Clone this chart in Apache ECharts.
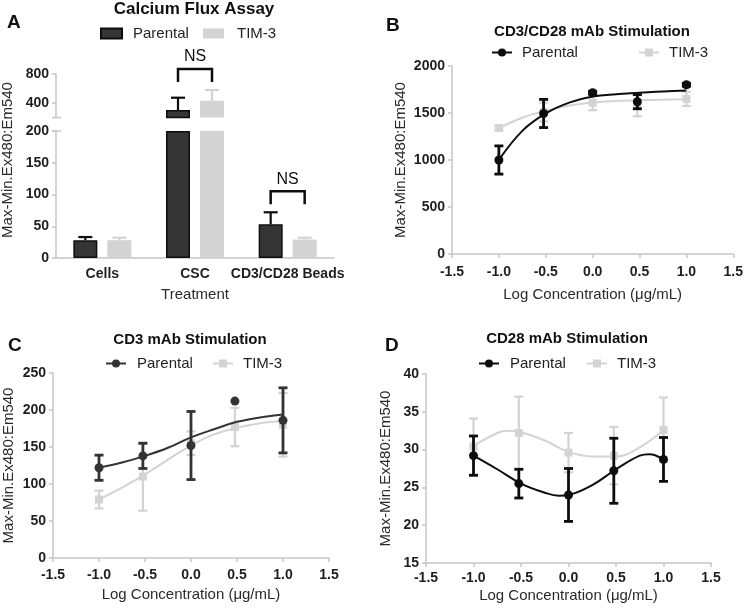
<!DOCTYPE html>
<html><head><meta charset="utf-8">
<script src="https://cdn.jsdelivr.net/npm/echarts@6/dist/echarts.min.js"></script>
<style>html,body{margin:0;padding:0;background:#fff}#c{width:746px;height:612px}</style>
</head><body><div id="c"></div>
<script>
// ---------------- Panel A data ----------------
const aCategories = ['Cells', 'CSC', 'CD3/CD28 Beads'];
const aParental = [28, 303, 53];
const aParentalErr = [5, 170, 19];
const aTim3 = [28, 432, 29];
const aTim3Err = [4, 147, 3];
const aLowerMax = 200;          // axis break value
const aUpperMax = 800;
const aLowerTicks = 50;
const aUpperTicks = [400, 800];
const aNsCategories = [1, 2];
const aNsLabels = ['NS', 'NS'];

// ---------------- Panel B data ----------------
const bX = [-1, -0.523, 0, 0.477, 1];
const bParental = [1000, 1495, 1715, 1620, 1800];
const bParentalErr = [150, 150, 15, 75, 15];
const bTim3 = [1340, 1510, 1610, 1580, 1650];
const bTim3Err = [30, 100, 80, 115, 75];
const bFitX = [-1, -0.75, -0.5, -0.25, 0, 0.25, 0.5, 0.75, 1];
const bParentalFit = [1000, 1310, 1495, 1610, 1675, 1700, 1715, 1730, 1740];
const bTim3Fit = [1340, 1450, 1525, 1580, 1612, 1628, 1637, 1642, 1645];

// ---------------- Panel C data ----------------
const cX = [-1, -0.523, 0, 0.477, 1];
const cParental = [122, 138, 152, 212, 186];
const cParentalErr = [17, 17, 46, 0, 44];
const cTim3 = [79, 110, 155, 177, 180];
const cTim3Err = [12, 46, 16, 26, 43];
const cFitX = [-1, -0.75, -0.5, -0.25, 0, 0.25, 0.5, 0.75, 1];
const cParentalFit = [122, 129, 138, 149, 163, 174, 184, 190, 194];
const cTim3Fit = [79, 95, 113, 133, 152, 167, 176, 182, 185];

// ---------------- Panel D data ----------------
const dX = [-1, -0.523, 0, 0.477, 1];
const dParental = [29.2, 25.5, 24.0, 27.2, 28.7];
const dParentalErr = [2.6, 1.9, 3.5, 4.3, 2.9];
const dTim3 = [30.4, 32.2, 29.6, 29.2, 32.6];
const dTim3Err = [3.7, 4.8, 2.6, 3.8, 4.3];
const dParentalFitX = [-1, -0.75, -0.5, -0.25, -0.1, 0, 0.25, 0.5, 0.75, 0.85, 1];
const dParentalFit = [29.2, 27.4, 25.5, 24.3, 23.9, 24.0, 25.3, 27.4, 29.2, 29.4, 28.7];
const dTim3FitX = [-1, -0.75, -0.65, -0.5, -0.25, 0, 0.25, 0.5, 0.75, 1];
const dTim3Fit = [30.5, 32.2, 32.5, 32.3, 31.2, 29.7, 29.1, 29.1, 30.3, 32.6];

const xTickLabelsMin = -1.5, xTickLabelsMax = 1.5, xTickStep = 0.5;

// ---------------- styles ----------------
const FONT = '"Liberation Sans", Arial, Helvetica, sans-serif';
const AXIS_COLOR = '#c6c6c6';
const LABEL_COLOR = '#1e1e1e';
const NAME_COLOR = '#2a2a2a';
const BLACK = '#0d0d0d';
const DARKGREY = '#333333';
const LIGHT = '#d3d3d3';
const BAR_W = 24, BAR_GAP = 10;
const BAR_OFF = (BAR_W + BAR_GAP) / 2;

const G_AUP = {left: 56, top: 74, width: 278, height: 43.5};
const G_ALO = {left: 56, top: 131, width: 278, height: 127};
const G_B = {left: 452, top: 66, width: 283, height: 188};
const G_C = {left: 52, top: 373, width: 277, height: 185};
const G_D = {left: 426, top: 374, width: 285, height: 189};

const zip = (xs, ys) => xs.map((x, i) => [x, ys[i]]);
const zip3 = (xs, ys, es) => xs.map((x, i) => [x, ys[i], es[i]]);

function axisLine() { return {show: true, onZero: false, lineStyle: {color: AXIS_COLOR, width: 1.5}}; }
function axisTick() { return {show: true, length: 4, inside: false, lineStyle: {color: AXIS_COLOR, width: 1.5}}; }
function tickLabel(extra) {
  return Object.assign({fontFamily: FONT, fontSize: 14, fontWeight: 'bold', color: LABEL_COLOR}, extra || {});
}
function logXAxis(gridIndex, nameGap, labelMargin) {
  return {
    type: 'value', gridIndex, min: xTickLabelsMin, max: xTickLabelsMax, interval: xTickStep,
    axisLine: axisLine(), axisTick: axisTick(), splitLine: {show: false},
    axisLabel: tickLabel({margin: labelMargin, formatter: v => v.toFixed(1)}),
    name: 'Log Concentration (\u03bcg/mL)', nameLocation: 'middle', nameGap,
    nameTextStyle: {fontFamily: FONT, fontSize: 15, color: NAME_COLOR}
  };
}
function valYAxis(gridIndex, min, max, interval, nameGap) {
  return {
    type: 'value', gridIndex, min, max, interval,
    axisLine: axisLine(), axisTick: axisTick(), splitLine: {show: false},
    axisLabel: tickLabel({margin: 7, formatter: v => String(v)}),
    name: 'Max-Min.Ex480:Em540', nameLocation: 'middle', nameGap,
    nameTextStyle: {fontFamily: FONT, fontSize: 15, color: NAME_COLOR}
  };
}

// two-sided error bars for the XY panels
function errRender(color, lw, capW) {
  return function (params, api) {
    const x = api.value(0), y = api.value(1), e = api.value(2);
    if (!(e > 0)) return;
    const t = api.coord([x, y + e]), b = api.coord([x, y - e]);
    const style = {stroke: color, lineWidth: lw, fill: null};
    return {type: 'group', children: [
      {type: 'line', shape: {x1: t[0], y1: t[1], x2: b[0], y2: b[1]}, style},
      {type: 'line', shape: {x1: t[0] - capW / 2, y1: t[1], x2: t[0] + capW / 2, y2: t[1]}, style},
      {type: 'line', shape: {x1: b[0] - capW / 2, y1: b[1], x2: b[0] + capW / 2, y2: b[1]}, style}
    ]};
  };
}

// one-sided (upper) error bars for the bar panel; value(3) = side (-1 / +1)
function barErrRender(params, api) {
  const cat = api.value(0), v = api.value(1), e = api.value(2), side = api.value(3);
  const b = api.coord([cat, v]), t = api.coord([cat, v + e]);
  const x = b[0] + side * BAR_OFF;
  const color = side < 0 ? BLACK : LIGHT;
  const style = {stroke: color, lineWidth: 2.2, fill: null};
  return {type: 'group', children: [
    {type: 'line', shape: {x1: x, y1: b[1], x2: x, y2: t[1]}, style},
    {type: 'line', shape: {x1: x - 7, y1: t[1], x2: x + 7, y2: t[1]}, style}
  ]};
}

function bracketRender(params, api) {
  const c = api.coord([api.value(0), api.value(1)]);
  const xl = c[0] - BAR_OFF, xr = c[0] + BAR_OFF;
  const yb = c[1] - 21, yl = c[1] - 8;
  return {type: 'group', children: [
    {type: 'polyline', shape: {points: [[xl, yl], [xl, yb], [xr, yb], [xr, yl]]},
     style: {stroke: BLACK, lineWidth: 2.5, fill: null}},
    {type: 'text', x: c[0], y: yb - 4,
     style: {text: aNsLabels[params.dataIndexInside] || 'NS', fontFamily: FONT, fontSize: 16, fill: '#111', align: 'center', verticalAlign: 'bottom'}}
  ]};
}

// derived Panel A data
const aErrRows = [];
aCategories.forEach((c, i) => {
  aErrRows.push([i, aParental[i], aParentalErr[i], -1]);
  aErrRows.push([i, aTim3[i], aTim3Err[i], 1]);
});
const aNsRows = aNsCategories.map(i => [i, Math.max(aParental[i] + aParentalErr[i], aTim3[i] + aTim3Err[i])]);

const aBarStyleP = {color: '#353535', borderColor: BLACK, borderWidth: 1.5};
const aBarStyleT = {color: LIGHT};

function legendOne(name, left, top, icon, pad) {
  const item = icon ? {name, icon} : {name};
  return {
    data: [item], left, top, padding: 0, itemWidth: icon ? 21 : 20, itemHeight: 10,
    selectedMode: false, formatter: n => n.split('#')[0],
    textStyle: {fontFamily: FONT, fontSize: 15, color: '#222', padding: [0, 0, 0, pad]},
    lineStyle: {width: 2, opacity: 1}
  };
}

function titleText(text, left, top, size, align) {
  return {text, left, top, padding: 0, textAlign: align || 'left',
    textStyle: {fontFamily: FONT, fontSize: size, fontWeight: 'bold', color: '#111'}};
}

function xyPanel(key, gi, xs, pv, pe, tv, te, pfx, pf, tfx, tf, pColor) {
  return [
    {name: 'TIM-3 fit#' + key, type: 'line', xAxisIndex: gi, yAxisIndex: gi, data: zip(tfx, tf),
     smooth: 0.4, showSymbol: false, silent: true, lineStyle: {color: LIGHT, width: 2}, z: 2},
    {name: 'TIM-3 err#' + key, type: 'custom', xAxisIndex: gi, yAxisIndex: gi, data: zip3(xs, tv, te),
     renderItem: errRender(LIGHT, 2.2, 9), encode: {x: 0, y: 1}, silent: true, z: 3},
    {name: 'TIM-3#' + key, type: 'line', xAxisIndex: gi, yAxisIndex: gi, data: zip(xs, tv),
     symbol: 'rect', symbolSize: 8, itemStyle: {color: LIGHT}, lineStyle: {color: LIGHT, width: 2, opacity: 0}, z: 4},
    {name: 'Parental fit#' + key, type: 'line', xAxisIndex: gi, yAxisIndex: gi, data: zip(pfx, pf),
     smooth: 0.4, showSymbol: false, silent: true, lineStyle: {color: pColor, width: 2}, z: 5},
    {name: 'Parental err#' + key, type: 'custom', xAxisIndex: gi, yAxisIndex: gi, data: zip3(xs, pv, pe),
     renderItem: errRender(pColor, 2.8, 9), encode: {x: 0, y: 1}, silent: true, z: 6},
    {name: 'Parental#' + key, type: 'line', xAxisIndex: gi, yAxisIndex: gi, data: zip(xs, pv),
     symbol: 'circle', symbolSize: 9, itemStyle: {color: pColor}, lineStyle: {color: pColor, width: 2, opacity: 0}, z: 7}
  ];
}

const option = {
  animation: false,
  backgroundColor: '#ffffff',
  title: [
    titleText('A', 7, 13, 19),
    titleText('Calcium Flux Assay', 194, 1, 17, 'center'),
    titleText('B', 386, 16, 19),
    titleText('CD3/CD28 mAb Stimulation', 592, 24, 15, 'center'),
    titleText('C', 8, 336, 19),
    titleText('CD3 mAb Stimulation', 190, 332, 15, 'center'),
    titleText('D', 385, 336, 19),
    titleText('CD28 mAb Stimulation', 567, 331, 15, 'center')
  ],
  legend: [
    legendOne('Parental#A', 100, 26, 'rect', 6),
    legendOne('TIM-3#A', 203, 26, 'rect', 8),
    legendOne('Parental#B', 491, 45, null, 5),
    legendOne('TIM-3#B', 638, 45, null, 5),
    legendOne('Parental#C', 105, 356, null, 6),
    legendOne('TIM-3#C', 212, 356, null, 5),
    legendOne('Parental#D', 478, 356, null, 6),
    legendOne('TIM-3#D', 586, 356, null, 5)
  ],
  grid: [G_AUP, G_ALO, G_B, G_C, G_D].map(g => Object.assign({containLabel: false}, g)),
  xAxis: [
    {type: 'category', gridIndex: 0, data: aCategories, show: false},
    {type: 'category', gridIndex: 1, data: aCategories,
     axisLine: axisLine(), axisTick: {show: false},
     axisLabel: tickLabel({margin: 9, interval: 0, hideOverlap: false}),
     name: 'Treatment', nameLocation: 'middle', nameGap: 29,
     nameTextStyle: {fontFamily: FONT, fontSize: 15, color: NAME_COLOR}},
    logXAxis(2, 33, 11),
    logXAxis(3, 29, 10),
    logXAxis(4, 25, 8)
  ],
  yAxis: [
    {type: 'value', gridIndex: 0, min: aLowerMax, max: aUpperMax,
     axisLine: axisLine(), splitLine: {show: false},
     axisTick: Object.assign(axisTick(), {customValues: aUpperTicks}),
     axisLabel: tickLabel({margin: 7, customValues: aUpperTicks})},
    {type: 'value', gridIndex: 1, min: 0, max: aLowerMax, interval: aLowerTicks,
     axisLine: axisLine(), axisTick: axisTick(), splitLine: {show: false},
     axisLabel: tickLabel({margin: 7})},
    valYAxis(2, 0, 2000, 500, 44),
    valYAxis(3, 0, 250, 50, 37),
    valYAxis(4, 15, 40, 5, 33)
  ],
  series: [
    {name: 'Parental#A', type: 'bar', xAxisIndex: 1, yAxisIndex: 1, barWidth: BAR_W, barGap: (BAR_GAP / BAR_W * 100) + '%',
     data: aParental.map(v => Math.min(v, aLowerMax)), itemStyle: aBarStyleP, clip: true},
    {name: 'TIM-3#A', type: 'bar', xAxisIndex: 1, yAxisIndex: 1, barWidth: BAR_W,
     data: aTim3.map(v => Math.min(v, aLowerMax)), itemStyle: aBarStyleT, clip: true},
    {name: 'Parental#A', type: 'bar', xAxisIndex: 0, yAxisIndex: 0, barWidth: BAR_W, barGap: (BAR_GAP / BAR_W * 100) + '%',
     data: aParental.map(v => v > aLowerMax ? v : '-'), itemStyle: aBarStyleP, clip: true},
    {name: 'TIM-3#A', type: 'bar', xAxisIndex: 0, yAxisIndex: 0, barWidth: BAR_W,
     data: aTim3.map(v => v > aLowerMax ? v : '-'), itemStyle: aBarStyleT, clip: true},
    {name: 'errA low', type: 'custom', xAxisIndex: 1, yAxisIndex: 1, renderItem: barErrRender,
     data: aErrRows.filter(r => r[1] <= aLowerMax), encode: {x: 0, y: 1}, silent: true, z: 3},
    {name: 'errA up', type: 'custom', xAxisIndex: 0, yAxisIndex: 0, renderItem: barErrRender,
     data: aErrRows.filter(r => r[1] > aLowerMax), encode: {x: 0, y: 1}, silent: true, z: 3},
    {name: 'nsA low', type: 'custom', xAxisIndex: 1, yAxisIndex: 1, renderItem: bracketRender,
     data: aNsRows.filter(r => r[1] <= aLowerMax), encode: {x: 0, y: 1}, silent: true, clip: false},
    {name: 'nsA up', type: 'custom', xAxisIndex: 0, yAxisIndex: 0, renderItem: bracketRender,
     data: aNsRows.filter(r => r[1] > aLowerMax), encode: {x: 0, y: 1}, silent: true, clip: false}
  ]
    .concat(xyPanel('B', 2, bX, bParental, bParentalErr, bTim3, bTim3Err, bFitX, bParentalFit, bFitX, bTim3Fit, BLACK))
    .concat(xyPanel('C', 3, cX, cParental, cParentalErr, cTim3, cTim3Err, cFitX, cParentalFit, cFitX, cTim3Fit, DARKGREY))
    .concat(xyPanel('D', 4, dX, dParental, dParentalErr, dTim3, dTim3Err, dParentalFitX, dParentalFit, dTim3FitX, dTim3Fit, BLACK)),
  graphic: [
    {type: 'line', shape: {x1: G_AUP.left - 4, y1: G_AUP.top + G_AUP.height, x2: G_AUP.left + 5, y2: G_AUP.top + G_AUP.height},
     style: {stroke: AXIS_COLOR, lineWidth: 1.5}},
    {type: 'line', shape: {x1: G_ALO.left - 4, y1: G_ALO.top, x2: G_ALO.left + 5, y2: G_ALO.top},
     style: {stroke: AXIS_COLOR, lineWidth: 1.5}},
    {type: 'text', x: 8, y: 160, rotation: Math.PI / 2,
     style: {text: 'Max-Min.Ex480:Em540', fontFamily: FONT, fontSize: 15, fill: NAME_COLOR, align: 'center', verticalAlign: 'middle'}}
  ]
};

const chart = echarts.init(document.getElementById('c'), null, {renderer: 'canvas'});
chart.setOption(option);
</script>
</body></html>
